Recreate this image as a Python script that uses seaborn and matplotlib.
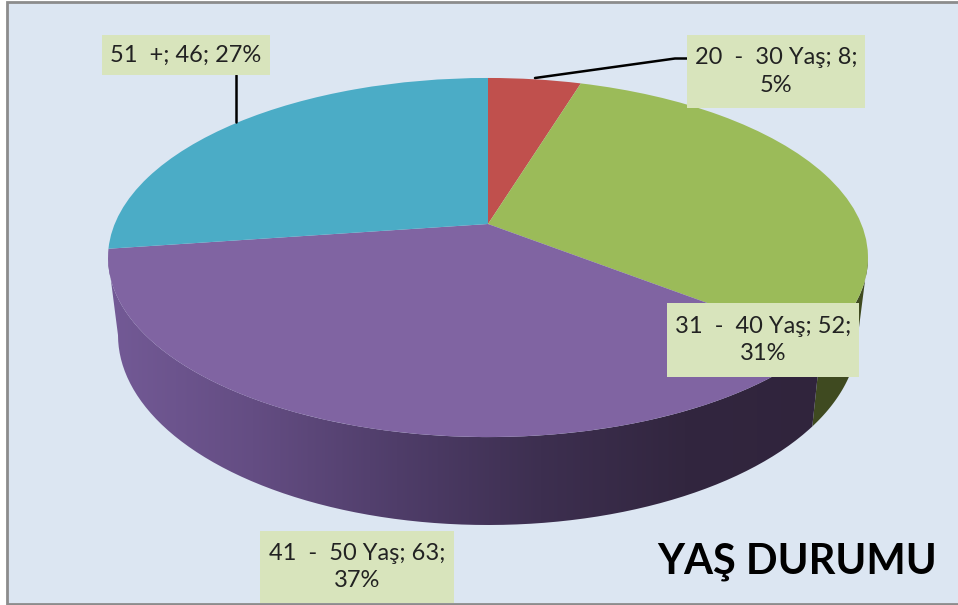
import numpy as np
import matplotlib
matplotlib.use("Agg")
import matplotlib.pyplot as plt
import matplotlib.transforms as mtrans
from matplotlib.patches import Rectangle, PathPatch
from matplotlib.path import Path
import seaborn as sns

# data
categories = ["20  -  30 Yaş", "31  -  40 Yaş", "41  -  50 Yaş", "51  +"]
values = [8, 52, 63, 46]
title = "YAŞ DURUMU"
top_colors = ["#C0504D", "#9BBB59", "#8064A2", "#4BACC6"]
purple_side = ["#735A96", "#644D83", "#4F3D69", "#3D2F50", "#32263F", "#30243C"]
green_side = "#3F4A20"

# pie geometry on screen, in pixels
cx, k = 488, 0.1867
top_disc = (373.3, 173.3, 224)
low_disc = (363.5, 183.4, 299.5)
turn = 100.8  # angle where the disc is widest, the wall silhouette starts there


class Perspective(mtrans.Transform):
    # unit circle -> tilted disc, apex sits above the ellipse centre
    input_dims = 2
    output_dims = 2

    def __init__(self, disc):
        super().__init__()
        self.disc = disc

    def transform_non_affine(self, values):
        a, b, cy = self.disc
        values = np.asarray(values, dtype=float)
        w = 1 + k * values[:, 1]
        return np.column_stack([cx + a * values[:, 0] / w, cy - b * values[:, 1] / w])


def wall_path(start, end):
    t = np.radians(np.linspace(start, end, 150))
    circle = np.column_stack([np.sin(t), np.cos(t)])
    pts = Perspective(top_disc).transform_non_affine(circle)
    low = Perspective(low_disc).transform_non_affine(circle)[::-1]
    return Path(np.vstack([pts, low, pts[:1]]))


sns.set_style("white")
plt.rcParams["font.family"] = ["Lato", "DejaVu Sans"]

fig = plt.figure(figsize=(9.58, 6.05), dpi=100, facecolor="white")
ax = fig.add_axes([0, 0, 1, 1])

ax.add_patch(Rectangle((7, 1.5), 960, 602, facecolor="#DCE6F2", edgecolor="#8C8C8C", linewidth=2, zorder=0))

# side wall
edges = np.cumsum([0] + values) / sum(values) * 360
ax.fill(*wall_path(turn, edges[2]).vertices.T, color=green_side, linewidth=0, zorder=1)

side_cmap = sns.blend_palette(purple_side, n_colors=256, as_cmap=True)
grad = ax.imshow(np.linspace(0, 1, 256).reshape(1, -1), cmap=side_cmap, aspect="auto",
                 extent=(108, 830, 530, 240), zorder=2)
grad.set_clip_path(PathPatch(wall_path(edges[2], 360 - turn), transform=ax.transData))

# top of the pie
wedges, _ = ax.pie(values, colors=sns.color_palette(top_colors), startangle=90, counterclock=False,
                   wedgeprops={"linewidth": 0})
for w in wedges:
    w.set_transform(Perspective(top_disc) + ax.transData)
    w.set_zorder(3)

# leader lines
ax.plot([535, 675, 688], [78, 58.5, 58.5], color="black", lw=1.8, zorder=4)
ax.plot([236, 236], [122, 75], color="black", lw=1.8, zorder=4)

# data labels
boxes = [(687, 35, 178, 73), (667, 303, 192, 74), (260, 531, 194, 72), (102, 35, 168, 40)]
for cat, val, box in zip(categories, values, boxes):
    pct = round(val / sum(values) * 100)
    sep = "; " if cat == "51  +" else ";\n"
    ax.add_patch(Rectangle(box[:2], box[2], box[3], facecolor="#D8E4BC", edgecolor="none", zorder=5))
    ax.text(box[0] + box[2] / 2, box[1] + box[3] / 2, f"{cat}; {val}{sep}{pct}%", ha="center", va="center",
            fontsize=17, color="#222222", linespacing=1.37, zorder=6)

ax.text(797, 562, title, ha="center", va="center", fontsize=30, fontweight="bold", color="black", zorder=6)

ax.set_aspect("auto")
ax.set_xlim(0, 958)
ax.set_ylim(605, 0)
ax.axis("off")

fig.savefig("out.png", dpi=100)
